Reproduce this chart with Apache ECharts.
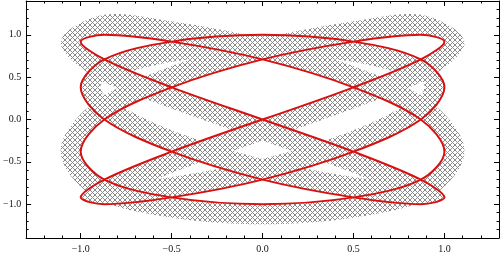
<!DOCTYPE html>
<html><head><meta charset="utf-8">
<script src="https://cdn.jsdelivr.net/npm/echarts@6/dist/echarts.min.js"></script>
<style>html,body{margin:0;padding:0;background:#fff}#c{width:500px;height:254px}</style>
</head><body><div id="c"></div>
<script>
// Points of the red Lissajous curve, in order of travel (tips, crossings, tangent points)
const curveX = [0,0.5,0.87,1,0.87,0.5,0,-0.5,-0.87,-1,-0.87,-0.5,
                0,0.5,0.87,1,0.87,0.5,0,-0.5,-0.87,-1,-0.87,-0.5,
                0,0.5,0.87,1,0.87,0.5,0,-0.5,-0.87,-1,-0.87,-0.5,
                0,0.5,0.87,1,0.87,0.5,0,-0.5,-0.87,-1,-0.87,-0.5];
const curveY = [0,0.38,0.71,0.92,1,0.92,0.71,0.38,0,-0.38,-0.71,-0.92,-1,-0.92,-0.71,-0.38,
                0,0.38,0.71,0.92,1,0.92,0.71,0.38,0,-0.38,-0.71,-0.92,-1,-0.92,-0.71,-0.38,
                0,0.38,0.71,0.92,1,0.92,0.71,0.38,0,-0.38,-0.71,-0.92,-1,-0.92,-0.71,-0.38];
// Tick labels
const xTicks = [-1.0,-0.5,0.0,0.5,1.0];
const yTicks = [-1.0,-0.5,0.0,0.5,1.0];
const xRange = [-1.3, 1.3];
const yRange = [-1.4, 1.4];

const N = curveX.length;
const linePts = curveX.map((x,i)=>[x, curveY[i]]);
linePts.push([curveX[0], curveY[0]]);

// cross-hatch pattern
const S = 5;
const pc = document.createElement('canvas');
pc.width = S; pc.height = S;
const pctx = pc.getContext('2d');
const img = pctx.createImageData(S,S);
for (let y=0;y<S;y++) for (let x=0;x<S;x++) {
  const on = ((x - y + S) % S === 0) || ((x + y) % S === S-1);
  const v = on ? 138 : 255;
  const k = (y*S+x)*4;
  img.data[k]=v; img.data[k+1]=v; img.data[k+2]=v; img.data[k+3]=255;
}
pctx.putImageData(img,0,0);
const hatch = {image: pc, repeat: 'repeat'};

const BAND = 20; // band width in px (style)
const fmt = v => (v < 0 ? '\u2212' : '') + Math.abs(v).toFixed(1);
const font = {fontFamily:'Liberation Serif', fontSize:10, color:'#111'};

function mkX(pos, major, labels) {
  return {
    type:'value', min:xRange[0], max:xRange[1], position:pos,
    interval: major ? undefined : 0.1,
    axisLine:{show:major, onZero:false, lineStyle:{color:'#000', width:1}},
    axisTick: major ? {show:true, inside:true, length:5, customValues:xTicks, lineStyle:{color:'#000'}}
                    : {show:true, inside:true, length:2.5, lineStyle:{color:'#000'}},
    axisLabel: labels ? Object.assign({show:true, customValues:xTicks, formatter:fmt, margin:6}, font) : {show:false},
    splitLine:{show:false}
  };
}
function mkY(pos, major, labels) {
  return {
    type:'value', min:yRange[0], max:yRange[1], position:pos,
    interval: major ? undefined : 0.1,
    axisLine:{show:major, onZero:false, lineStyle:{color:'#000', width:1}},
    axisTick: major ? {show:true, inside:true, length:5, customValues:yTicks, lineStyle:{color:'#000'}}
                    : {show:true, inside:true, length:2.5, lineStyle:{color:'#000'}},
    axisLabel: labels ? Object.assign({show:true, customValues:yTicks, formatter:fmt, margin:5}, font) : {show:false},
    splitLine:{show:false}
  };
}

const chart = echarts.init(document.getElementById('c'), null, {renderer:'canvas'});
chart.setOption({
  animation:false,
  backgroundColor:'#fff',
  grid:{left:23, top:1, width:476, height:237},
  xAxis:[mkX('bottom',true,true), mkX('bottom',false,false), mkX('top',true,false), mkX('top',false,false)],
  yAxis:[mkY('left',true,true), mkY('left',false,false), mkY('right',true,false), mkY('right',false,false)],
  series:[
    {
      type:'custom', xAxisIndex:0, yAxisIndex:0, z:1,
      data: curveX.map((x,i)=>[x, curveY[i]]),
      renderItem(params, api) {
        const i = params.dataIndex;
        const P = j => { j = ((j % N) + N) % N; return api.coord([curveX[j], curveY[j]]); };
        const Q = j => {
          const a = P(j-1), b = P(j+1), p = P(j);
          let dx = b[0]-a[0], dy = b[1]-a[1];
          const L = Math.hypot(dx,dy) || 1;
          return [p[0] + BAND * (-dy/L), p[1] + BAND * (dx/L)];
        };
        const cr = (f) => {
          const a = f(i-1), b = f(i), c = f(i+1), d = f(i+2);
          return [b, [b[0]+(c[0]-a[0])/6, b[1]+(c[1]-a[1])/6], [c[0]-(d[0]-b[0])/6, c[1]-(d[1]-b[1])/6], c];
        };
        const p = cr(P), q = cr(Q);
        const f = v => v[0].toFixed(2)+' '+v[1].toFixed(2);
        const d = 'M'+f(p[0])+' C'+f(p[1])+' '+f(p[2])+' '+f(p[3])+
                  ' L'+f(q[3])+' C'+f(q[2])+' '+f(q[1])+' '+f(q[0])+' Z';
        return {type:'path', shape:{pathData:d}, style:{fill:hatch, stroke:null}};
      }
    },
    {
      type:'line', xAxisIndex:0, yAxisIndex:0, z:3,
      data: linePts, smooth:0.33, showSymbol:false, symbol:'none',
      lineStyle:{color:'#d81010', width:2}
    }
  ]
});
</script></body></html>
